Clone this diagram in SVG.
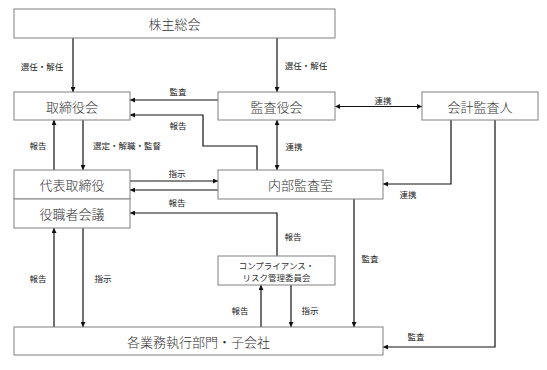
<svg xmlns="http://www.w3.org/2000/svg" width="547" height="370" viewBox="0 0 547 370">
<style>
.box{fill:#fff;stroke:#808080;stroke-width:1}
.bt{font-family:"Noto Sans CJK JP","Noto Sans CJK SC",sans-serif;font-size:13px;font-weight:300;fill:#333;text-anchor:middle;dominant-baseline:central}
.st{font-family:"Noto Sans CJK JP","Noto Sans CJK SC",sans-serif;font-size:8.5px;fill:#222;text-anchor:middle;dominant-baseline:central}
.ct{font-family:"Noto Sans CJK JP","Noto Sans CJK SC",sans-serif;font-size:8.5px;fill:#333;text-anchor:middle;dominant-baseline:central}
.ln{fill:none;stroke:#111;stroke-width:1.2}
</style>
<defs>
<marker id="ah" viewBox="0 0 6 6" refX="6" refY="3" markerWidth="5" markerHeight="5" markerUnits="userSpaceOnUse" orient="auto-start-reverse">
<path d="M0,0 L6,3 L0,6 Z" fill="#111"/>
</marker>
</defs>
<rect width="547" height="370" fill="#fff"/>
<g id="connectors">
<path class="ln" d="M73,38 V92" marker-end="url(#ah)"/>
<path class="ln" d="M277,38 V92" marker-end="url(#ah)"/>
<path class="ln" d="M218,100 H130" marker-end="url(#ah)"/>
<path class="ln" d="M257,170 V146 H203 V115 H130" marker-end="url(#ah)"/>
<path class="ln" d="M335,106.5 H422" marker-start="url(#ah)" marker-end="url(#ah)"/>
<path class="ln" d="M54,170 V120" marker-end="url(#ah)"/>
<path class="ln" d="M83,120 V170" marker-end="url(#ah)"/>
<path class="ln" d="M130,181 H218" marker-end="url(#ah)"/>
<path class="ln" d="M218,190 H130" marker-end="url(#ah)"/>
<path class="ln" d="M277,256 V213 H130" marker-end="url(#ah)"/>
<path class="ln" d="M277,120 V170" marker-start="url(#ah)" marker-end="url(#ah)"/>
<path class="ln" d="M451,120 V184 H383" marker-end="url(#ah)"/>
<path class="ln" d="M495,120 V347 H383" marker-end="url(#ah)"/>
<path class="ln" d="M354,199 V327" marker-end="url(#ah)"/>
<path class="ln" d="M261,327 V285" marker-end="url(#ah)"/>
<path class="ln" d="M291,285 V327" marker-end="url(#ah)"/>
<path class="ln" d="M54,327 V228" marker-end="url(#ah)"/>
<path class="ln" d="M83,228 V327" marker-end="url(#ah)"/>
<text class="st" x="42" y="66">選任・解任</text>
<text class="st" x="306" y="65">選任・解任</text>
<text class="st" x="178" y="91">監査</text>
<text class="st" x="178" y="125">報告</text>
<text class="st" x="383" y="100">連携</text>
<text class="st" x="38" y="145">報告</text>
<text class="st" x="127" y="145">選定・解職・監督</text>
<text class="st" x="294" y="146">連携</text>
<text class="st" x="177" y="173">指示</text>
<text class="st" x="177" y="202">報告</text>
<text class="st" x="408" y="194">連携</text>
<text class="st" x="293" y="236">報告</text>
<text class="st" x="370" y="258">監査</text>
<text class="st" x="38" y="278">報告</text>
<text class="st" x="103" y="278">指示</text>
<text class="st" x="240" y="310">報告</text>
<text class="st" x="310" y="310">指示</text>
<text class="st" x="416" y="336">監査</text>
</g>
<g id="shareholders"><rect class="box" x="14" y="9" width="321" height="29"/><text class="bt" x="174.5" y="23.5">株主総会</text></g>
<g id="board"><rect class="box" x="14" y="92" width="116" height="28"/><text class="bt" x="72" y="106">取締役会</text></g>
<g id="auditors"><rect class="box" x="218" y="92" width="117" height="28"/><text class="bt" x="276.5" y="106">監査役会</text></g>
<g id="accounting-auditor"><rect class="box" x="422" y="92" width="116" height="28"/><text class="bt" x="480" y="106">会計監査人</text></g>
<g id="representative"><rect class="box" x="14" y="170" width="116" height="29"/><text class="bt" x="72" y="184.5">代表取締役</text></g>
<g id="officers"><rect class="box" x="14" y="199" width="116" height="29"/><text class="bt" x="72" y="213.5">役職者会議</text></g>
<g id="internal-audit"><rect class="box" x="218" y="170" width="165" height="29"/><text class="bt" x="300.5" y="184.5">内部監査室</text></g>
<g id="compliance"><rect class="box" x="218" y="256" width="117" height="29"/><text class="ct" x="276.5" y="265">コンプライアンス・</text><text class="ct" x="276.5" y="277">リスク管理委員会</text></g>
<g id="divisions"><rect class="box" x="14" y="327" width="369" height="28"/><text class="bt" x="198.5" y="341">各業務執行部門・子会社</text></g>
</svg>
